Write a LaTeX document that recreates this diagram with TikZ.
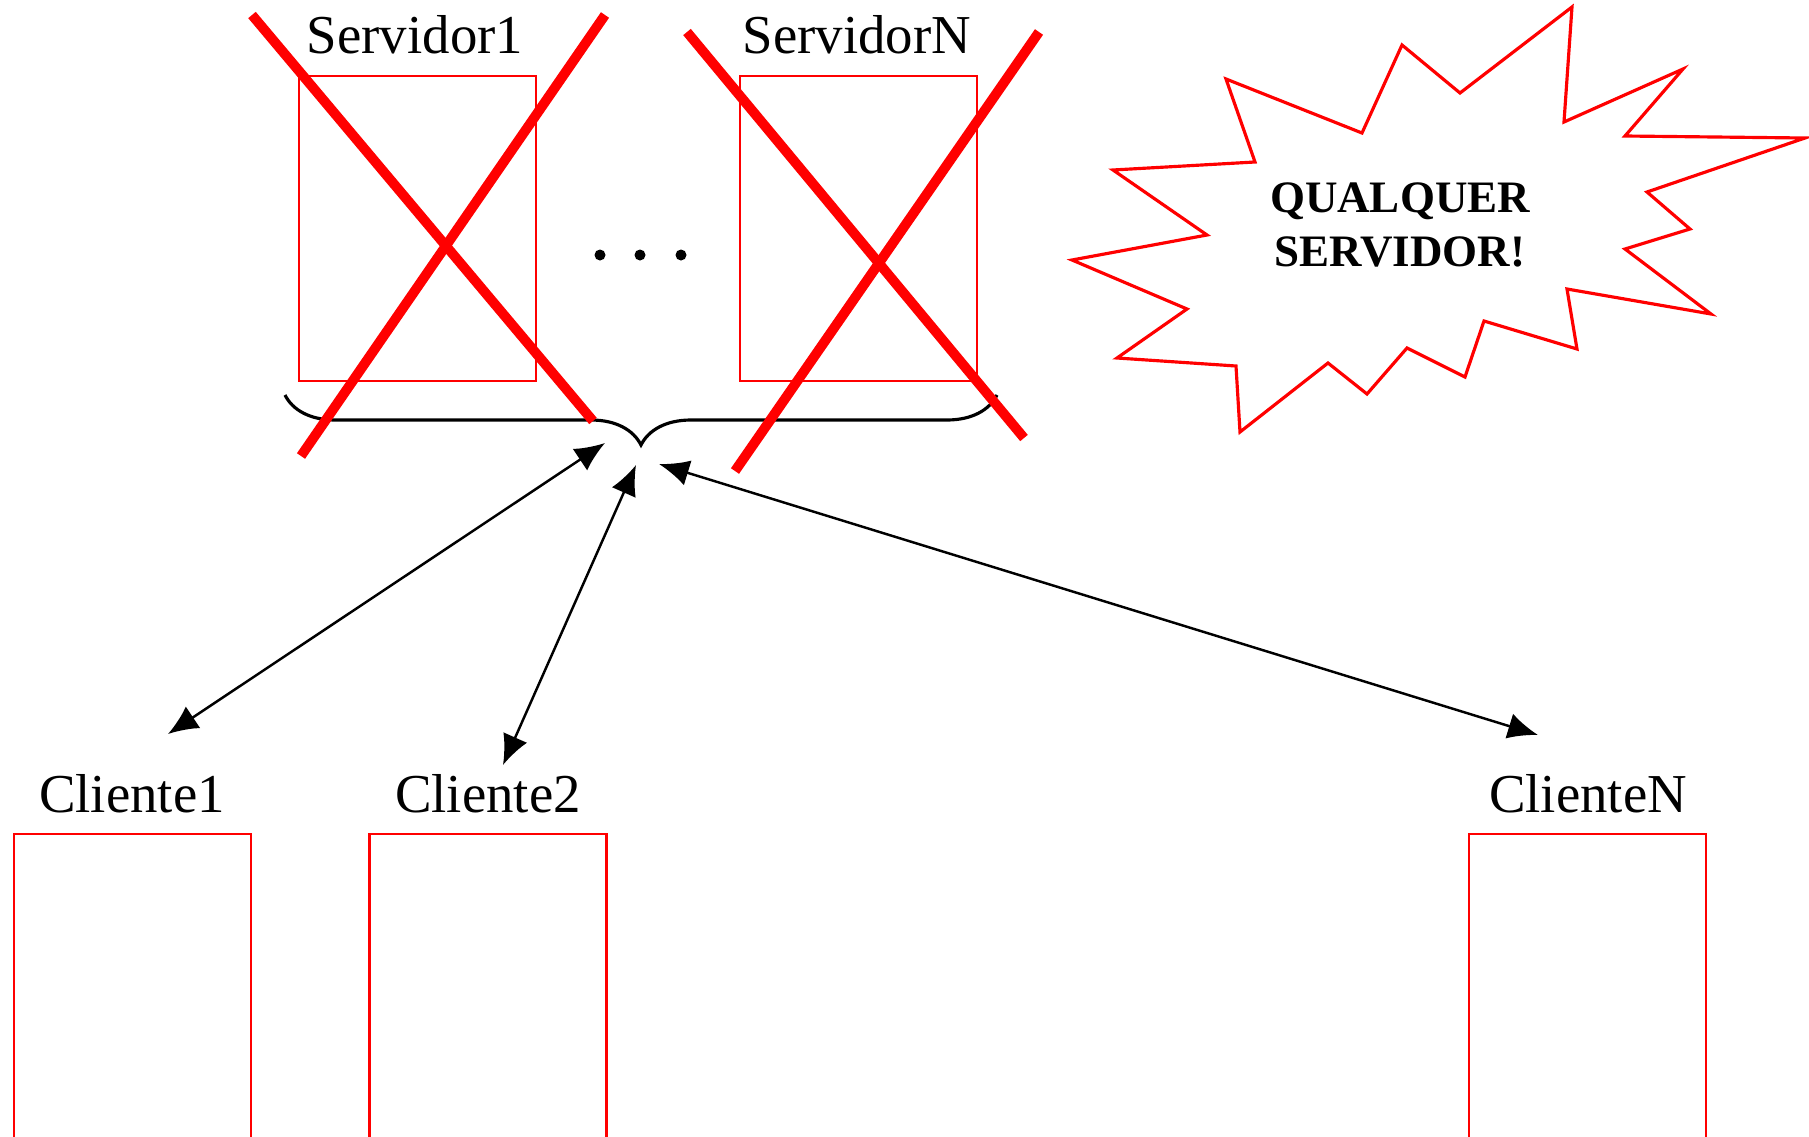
\documentclass[tikz,border=0pt]{standalone}
\usepackage{fontspec}
\setmainfont{Liberation Serif}
\usetikzlibrary{arrows.meta,decorations.pathreplacing}

\begin{document}
\begin{tikzpicture}[
	caixa/.style={draw=red, line width=0.75pt, minimum width=2.37cm, minimum height=3.05cm, inner sep=0pt},
	caixacli/.style={caixa, minimum height=3.5cm},
	rotulo/.style={font=\fontsize{15.6}{18}\selectfont, inner sep=0pt},
	corte/.style={red, line width=2.8pt},
	seta/.style={{Latex[length=3mm,width=2.6mm]}-{Latex[length=3mm,width=2.6mm]}, line width=0.7pt},
]
	\clip (0,0) rectangle (18.09,11.36);

	\node[caixa] (S1) at (4.175,9.075) {};
	\node[caixa] (SN) at (8.585,9.075) {};
	\node[rotulo] (lS1) at (4.15,11.01) {Servidor1};
	\node[rotulo] (lSN) at (8.57,11.01) {ServidorN};

	\foreach \x in {6.00,6.40,6.81}
		\fill (\x,8.81) circle (0.055);

	\node[caixacli] (C1) at (1.325,1.27) {};
	\node[caixacli] (C2) at (4.88,1.27) {};
	\node[caixacli] (CN) at (15.875,1.27) {};
	\node[rotulo] (lC1) at (1.32,3.42) {Cliente1};
	\node[rotulo] (lC2) at (4.88,3.42) {Cliente2};
	\node[rotulo] (lCN) at (15.88,3.42) {ClienteN};

	% chave sob os servidores
	\draw[line width=0.9pt, decorate, decoration={brace, mirror, amplitude=0.5cm}]
		(2.85,7.41) -- (9.97,7.41);

	% servidores fora do ar
	\draw[corte] (2.52,11.21) -- (5.93,7.15);
	\draw[corte] (6.05,11.21) -- (3.01,6.80);
	\draw[corte] (6.87,11.04) -- (10.24,6.98);
	\draw[corte] (10.39,11.04) -- (7.35,6.65);

	% ligacoes dos clientes
	\coordinate (t1) at (6.05,6.93);
	\coordinate (t2) at (6.36,6.71);
	\coordinate (tN) at (6.59,6.72);
	\coordinate (b1) at (1.68,4.02);
	\coordinate (b2) at (5.03,3.71);
	\coordinate (bN) at (15.38,4.01);
	\draw[seta] (t1) -- (b1);
	\draw[seta] (t2) -- (b2);
	\draw[seta] (tN) -- (bN);

	% estouro
	\draw[red, line width=0.9pt, line join=miter]
		(12.26,10.57) -- (12.55,9.74) -- (11.13,9.66) -- (12.07,9.01) -- (10.72,8.76)
		-- (11.87,8.27) -- (11.17,7.78) -- (12.36,7.70) -- (12.40,7.04) -- (13.28,7.73)
		-- (13.67,7.42) -- (14.07,7.88) -- (14.65,7.59) -- (14.84,8.15) -- (15.77,7.87)
		-- (15.67,8.47) -- (17.11,8.22) -- (16.25,8.87) -- (16.90,9.07) -- (16.47,9.44)
		-- (18.05,9.98) -- (16.25,10.00) -- (16.83,10.67) -- (15.64,10.14) -- (15.72,11.29)
		-- (14.60,10.43) -- (14.02,10.91) -- (13.62,10.03) -- cycle;
	\node[align=center, font=\fontsize{12.8}{15.4}\selectfont\bfseries] (alerta) at (14.00,9.11)
		{QUALQUER\\SERVIDOR!};

\end{tikzpicture}
\end{document}
